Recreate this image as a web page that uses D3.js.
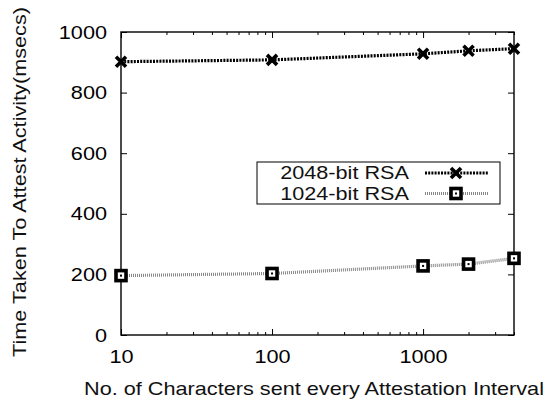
<!DOCTYPE html>
<html>
<head>
<meta charset="utf-8">
<script src="https://cdn.jsdelivr.net/npm/d3@7"></script>
<style>
  body { margin: 0; background: #fff; }
  text { font-family: "Liberation Sans", Arial, sans-serif; fill: #000; }
</style>
</head>
<body>
<div id="main"></div>
<script>
const chars = [10, 100, 1000, 2000, 4000];
const rsa2048 = [902, 908, 928, 938, 945];
const rsa1024 = [196, 203, 228, 234, 253];
const yTicks = [0, 200, 400, 600, 800, 1000];
const xTicks = [10, 100, 1000];
const seriesNames = ["2048-bit RSA", "1024-bit RSA"];

const ctx = {
    width: 559,
    height: 401,
    margin: {top: 32, right: 45, bottom: 66, left: 121},
    fontSize: "19px",
    stretch: 1.14
};
const w = ctx.width - ctx.margin.left - ctx.margin.right;
const h = ctx.height - ctx.margin.top - ctx.margin.bottom;

// the original font is a bit wider than Liberation Sans
function widen(sel) {
    sel.each(function() {
        const L = this.getComputedTextLength();
        d3.select(this)
            .attr("textLength", L * ctx.stretch)
            .attr("lengthAdjust", "spacingAndGlyphs");
    });
}

const svg = d3.select("#main").append("svg")
    .attr("width", ctx.width)
    .attr("height", ctx.height);

const g = svg.append("g")
    .attr("transform", `translate(${ctx.margin.left},${ctx.margin.top})`);

const x = d3.scaleLog().domain([10, 4000]).range([0, w]);
const y = d3.scaleLinear().domain([0, 1000]).range([h, 0]);

// minor ticks for log axis
const minor = x.ticks().filter(d => !xTicks.includes(d));

// bottom and top axes (ticks point inward)
g.append("g")
    .attr("transform", `translate(0,${h})`)
    .call(d3.axisBottom(x).tickValues(xTicks).tickSize(-6).tickPadding(15).tickFormat(d3.format("d")));
g.append("g")
    .attr("transform", `translate(0,${h})`)
    .call(d3.axisBottom(x).tickValues(minor).tickSize(-3).tickFormat(""));
g.append("g")
    .call(d3.axisTop(x).tickValues(xTicks).tickSize(-6).tickFormat(""));
g.append("g")
    .call(d3.axisTop(x).tickValues(minor).tickSize(-3).tickFormat(""));

// left and right axes
g.append("g")
    .call(d3.axisLeft(y).tickValues(yTicks).tickSize(-6).tickPadding(14).tickFormat(d3.format("d")));
g.append("g")
    .attr("transform", `translate(${w},0)`)
    .call(d3.axisRight(y).tickValues(yTicks).tickSize(-6).tickFormat(""));

g.selectAll(".domain").remove();
g.selectAll(".tick line").attr("stroke", "#000").attr("stroke-width", 1);
g.selectAll(".tick text")
    .style("font-size", ctx.fontSize)
    .attr("font-family", null)
    .attr("fill", "#111")
    .call(widen);

g.append("rect")
    .attr("width", w).attr("height", h)
    .attr("fill", "none").attr("stroke", "#000").attr("stroke-width", 1.4);

const line = d3.line()
    .x((d, i) => x(chars[i]))
    .y(d => y(d));

const styles = [
    {data: rsa2048, color: "#000", dash: "2,1.2", width: 3.2, marker: "cross"},
    {data: rsa1024, color: "#888", dash: "1,1", width: 3.2, marker: "square"}
];

function drawMarker(sel, type, cx, cy) {
    const s = 5;
    if (type === "cross") {
        sel.append("path")
            .attr("d", `M${cx - s},${cy - s}L${cx + s},${cy + s}M${cx - s},${cy + s}L${cx + s},${cy - s}`)
            .attr("stroke", "#000").attr("stroke-width", 3.6).attr("fill", "none");
    } else {
        sel.append("rect")
            .attr("x", cx - s).attr("y", cy - s)
            .attr("width", 2 * s).attr("height", 2 * s)
            .attr("fill", "#fff").attr("stroke", "#000").attr("stroke-width", 3.6);
        sel.append("rect")
            .attr("x", cx - 1).attr("y", cy - 1)
            .attr("width", 2).attr("height", 2)
            .attr("fill", "#000");
    }
}

styles.forEach(s => {
    g.append("path")
        .attr("d", line(s.data))
        .attr("fill", "none")
        .attr("stroke", s.color)
        .attr("stroke-width", s.width)
        .attr("stroke-dasharray", s.dash);
    const mg = g.append("g");
    s.data.forEach((v, i) => drawMarker(mg, s.marker, x(chars[i]), y(v)));
});

// legend
const legend = svg.append("g");
legend.append("rect")
    .attr("x", 257).attr("y", 162)
    .attr("width", 243).attr("height", 42)
    .attr("fill", "#fff").attr("stroke", "#000").attr("stroke-width", 1);

seriesNames.forEach((name, i) => {
    const ly = 173 + i * 20.5;
    legend.append("text")
        .attr("x", 409).attr("y", ly + 6)
        .attr("text-anchor", "end")
        .style("font-size", ctx.fontSize)
        .style("fill", "#111")
        .text(name)
        .call(widen);
    legend.append("line")
        .attr("x1", 425).attr("x2", 488)
        .attr("y1", ly).attr("y2", ly)
        .attr("stroke", styles[i].color)
        .attr("stroke-width", styles[i].width)
        .attr("stroke-dasharray", styles[i].dash);
    drawMarker(legend, styles[i].marker, 456, ly);
});

// axis titles
svg.append("text")
    .attr("x", 314).attr("y", 395)
    .attr("text-anchor", "middle")
    .style("font-size", ctx.fontSize)
    .style("fill", "#111")
    .text("No. of Characters sent every Attestation Interval")
    .call(widen);

svg.append("text")
    .attr("transform", "translate(26,182) rotate(-90)")
    .attr("text-anchor", "middle")
    .style("font-size", ctx.fontSize)
    .style("fill", "#111")
    .text("Time Taken To Attest Activity(msecs)")
    .call(widen);
</script>
</body>
</html>
